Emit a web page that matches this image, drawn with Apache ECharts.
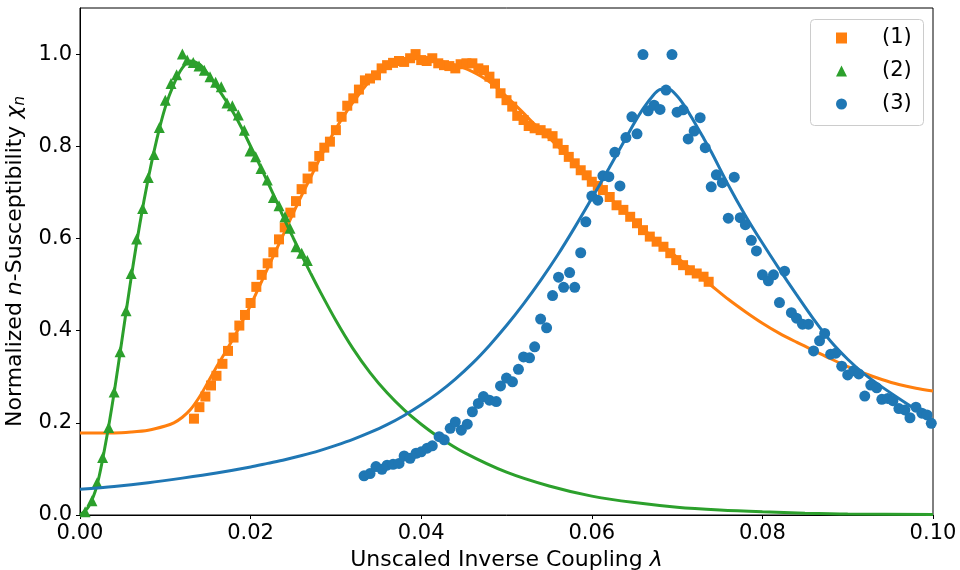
<!DOCTYPE html>
<html>
<head>
<meta charset="utf-8">
<script src="https://cdn.jsdelivr.net/npm/echarts@6/dist/echarts.min.js"></script>
<style>
html,body{margin:0;padding:0;background:#fff;}
#chart{width:960px;height:570px;}
</style>
</head>
<body>
<div id="chart"></div>
<script>
// ---- Data ----
var xTicks = [0, 0.02, 0.04, 0.06, 0.08, 0.10];
var yTicks = [0, 0.2, 0.4, 0.6, 0.8, 1.0];
var seriesNames = ['(1)', '(2)', '(3)'];

// (1) orange squares
var s1x = [0.01336,0.0140,0.0147,0.01536,0.0160,0.0167,0.01735,0.0180,0.01868,0.01934,0.0200,0.02067,0.0213,0.0220,0.02267,0.02333,0.0240,0.02466,0.02532,0.02598,0.02668,0.02735,0.02805,0.02864,0.0293,0.0300,0.03067,0.03133,0.03204,0.0327,0.0334,0.0340,0.0347,0.03536,0.0360,0.0367,0.0374,0.0380,0.0387,0.03934,0.0400,0.04064,0.0413,0.0420,0.04267,0.0433,0.0440,0.04462,0.0453,0.0460,0.0467,0.04736,0.0480,0.04865,0.0493,0.0500,0.05067,0.05126,0.0520,0.0526,0.0533,0.0540,0.0547,0.0554,0.0560,0.0567,0.0573,0.0580,0.0587,0.0594,0.0600,0.0607,0.0613,0.0621,0.0629,0.0637,0.0645,0.0653,0.0660,0.0668,0.0676,0.0684,0.0692,0.0699,0.0707,0.0715,0.0723,0.0731,0.0737];
var s1y = [0.209,0.234,0.257,0.281,0.302,0.328,0.356,0.385,0.411,0.434,0.460,0.495,0.521,0.546,0.570,0.598,0.624,0.656,0.681,0.707,0.730,0.756,0.779,0.797,0.810,0.835,0.864,0.888,0.904,0.923,0.943,0.947,0.954,0.969,0.976,0.981,0.985,0.983,0.991,1.000,0.987,0.985,0.991,0.980,0.976,0.974,0.969,0.978,0.980,0.980,0.969,0.965,0.951,0.936,0.915,0.900,0.886,0.866,0.857,0.844,0.839,0.835,0.828,0.822,0.806,0.792,0.777,0.763,0.748,0.737,0.723,0.714,0.705,0.690,0.672,0.662,0.647,0.633,0.618,0.604,0.593,0.582,0.568,0.553,0.542,0.531,0.524,0.517,0.506];

// (2) green triangles
var s2x = [0.0006,0.0014,0.0020,0.00265,0.00336,0.0040,0.0047,0.0054,0.0060,0.00664,0.00734,0.0080,0.00867,0.0093,0.0100,0.01067,0.01133,0.0120,0.01257,0.01328,0.01395,0.01457,0.01524,0.0159,0.01656,0.01723,0.01786,0.01856,0.01926,0.01993,0.0206,0.02122,0.02196,0.02267,0.02333,0.02403,0.02462,0.02532,0.02599,0.02665];
var s2y = [0.007,0.031,0.070,0.125,0.190,0.267,0.354,0.443,0.524,0.599,0.665,0.732,0.782,0.841,0.900,0.936,0.955,1.000,0.987,0.982,0.974,0.965,0.951,0.939,0.929,0.894,0.888,0.868,0.835,0.790,0.777,0.752,0.727,0.689,0.671,0.647,0.622,0.582,0.568,0.552];

// (3) blue circles
var s3x = [0.0333,0.0340,0.0347,0.0354,0.0360,0.0367,0.0374,0.0380,0.0387,0.0394,0.0400,0.0407,0.0413,0.0421,0.0427,0.0434,0.0440,0.0447,0.0454,0.0460,0.0467,0.0473,0.0480,0.0488,0.0493,0.0500,0.0507,0.0514,0.0520,0.0527,0.0533,0.0540,0.0547,0.0554,0.0561,0.0567,0.0574,0.0580,0.0587,0.0593,0.0600,0.0607,0.0613,0.0620,0.0627,0.0633,0.0640,0.0647,0.0653,0.0660,0.0666,0.0673,0.0680,0.0687,0.0694,0.0700,0.0707,0.0713,0.0720,0.0727,0.0733,0.0740,0.0746,0.0753,0.0760,0.0767,0.0774,0.0780,0.0787,0.0793,0.0800,0.0807,0.0813,0.0820,0.0826,0.0834,0.0840,0.0847,0.0854,0.0860,0.0867,0.0873,0.0880,0.0886,0.0893,0.0900,0.0907,0.0913,0.0920,0.0927,0.0934,0.0940,0.0947,0.0953,0.0960,0.0967,0.0973,0.0980,0.0987,0.0993,0.0998];
var s3y = [0.085,0.090,0.105,0.099,0.108,0.110,0.112,0.128,0.123,0.134,0.137,0.145,0.150,0.170,0.163,0.188,0.202,0.184,0.197,0.224,0.242,0.257,0.249,0.246,0.280,0.297,0.289,0.316,0.343,0.341,0.365,0.425,0.406,0.476,0.516,0.494,0.526,0.494,0.569,0.636,0.692,0.683,0.736,0.734,0.787,0.714,0.819,0.864,0.827,0.999,0.877,0.889,0.880,0.922,0.999,0.874,0.879,0.816,0.833,0.862,0.797,0.712,0.738,0.721,0.644,0.733,0.645,0.630,0.596,0.573,0.521,0.508,0.521,0.461,0.529,0.439,0.427,0.414,0.414,0.356,0.378,0.394,0.349,0.351,0.323,0.304,0.313,0.306,0.258,0.282,0.276,0.251,0.253,0.248,0.231,0.228,0.211,0.234,0.221,0.217,0.199];

// fit curves
var f1x = [0.000,0.004,0.006,0.008,0.010,0.011,0.012,0.013,0.014,0.015,0.016,0.017,0.018,0.019,0.020,0.021,0.022,0.023,0.024,0.025,0.026,0.027,0.028,0.029,0.030,0.031,0.032,0.033,0.034,0.035,0.036,0.037,0.038,0.039,0.040,0.041,0.042,0.043,0.044,0.045,0.046,0.047,0.048,0.049,0.050,0.051,0.052,0.053,0.054,0.055,0.056,0.057,0.058,0.059,0.060,0.062,0.064,0.066,0.068,0.070,0.072,0.074,0.076,0.078,0.080,0.082,0.084,0.086,0.088,0.090,0.092,0.094,0.096,0.098,0.100];
var f1y = [0.178,0.178,0.180,0.184,0.193,0.200,0.212,0.230,0.256,0.288,0.321,0.352,0.384,0.419,0.455,0.495,0.535,0.575,0.615,0.655,0.694,0.731,0.769,0.805,0.838,0.868,0.895,0.920,0.942,0.960,0.973,0.982,0.987,0.990,0.990,0.988,0.985,0.981,0.976,0.970,0.962,0.952,0.940,0.925,0.908,0.890,0.872,0.853,0.835,0.818,0.800,0.782,0.764,0.745,0.727,0.690,0.655,0.621,0.590,0.559,0.528,0.498,0.468,0.441,0.416,0.394,0.375,0.357,0.339,0.322,0.307,0.294,0.283,0.275,0.269];

var f2x = [0.000,0.001,0.002,0.003,0.004,0.005,0.006,0.007,0.008,0.009,0.010,0.011,0.012,0.013,0.014,0.015,0.016,0.017,0.018,0.019,0.020,0.021,0.022,0.023,0.024,0.025,0.026,0.027,0.028,0.030,0.032,0.034,0.036,0.038,0.040,0.042,0.045,0.050,0.055,0.060,0.065,0.070,0.075,0.080,0.085,0.090,0.100];
var f2y = [0.000,0.018,0.065,0.155,0.265,0.390,0.515,0.630,0.730,0.815,0.885,0.935,0.970,0.985,0.978,0.957,0.930,0.902,0.872,0.838,0.800,0.762,0.722,0.682,0.640,0.601,0.563,0.526,0.490,0.422,0.361,0.309,0.265,0.228,0.197,0.170,0.136,0.093,0.063,0.041,0.027,0.017,0.011,0.007,0.004,0.002,0.001];

var f3x = [0.000,0.004,0.008,0.012,0.016,0.020,0.022,0.024,0.026,0.028,0.030,0.032,0.034,0.036,0.038,0.040,0.042,0.044,0.046,0.048,0.050,0.052,0.054,0.056,0.058,0.060,0.062,0.064,0.065,0.066,0.067,0.068,0.069,0.070,0.071,0.072,0.073,0.074,0.076,0.078,0.080,0.082,0.084,0.086,0.088,0.090,0.092,0.094,0.096,0.098,0.100];
var f3y = [0.056,0.062,0.070,0.080,0.091,0.104,0.112,0.120,0.129,0.139,0.151,0.164,0.179,0.196,0.216,0.239,0.265,0.295,0.329,0.368,0.411,0.458,0.509,0.564,0.624,0.687,0.752,0.818,0.851,0.881,0.906,0.923,0.924,0.909,0.884,0.853,0.821,0.788,0.716,0.650,0.590,0.533,0.478,0.425,0.377,0.338,0.305,0.278,0.253,0.229,0.206];

var colors = ['#ff7f0e', '#2ca02c', '#1f77b4'];

function zip(xs, ys) { return xs.map(function (x, i) { return [x, ys[i]]; }); }

var FONT = 'DejaVu Sans';
var chart = echarts.init(document.getElementById('chart'), null, { renderer: 'canvas' });

var option = {
  animation: false,
  backgroundColor: '#fff',
  textStyle: { fontFamily: FONT },
  grid: { left: 80, right: 27, top: 8, bottom: 55, containLabel: false, outerBoundsMode: 'none',
    show: true, borderColor: '#000', borderWidth: 1, backgroundColor: 'transparent' },
  xAxis: {
    type: 'value', min: 0, max: 0.10, interval: 0.02,
    name: 'Unscaled Inverse Coupling {i|λ}',
    nameLocation: 'middle', nameGap: 31,
    nameTextStyle: { fontFamily: FONT, fontSize: 22, color: '#000',
      rich: { i: { fontFamily: FONT, fontSize: 22, fontStyle: 'italic', color: '#000' } } },
    axisLine: { show: true, lineStyle: { color: '#000', width: 1 } },
    axisTick: { show: true, inside: false, length: 4, lineStyle: { color: '#000' } },
    axisLabel: { fontFamily: FONT, fontSize: 21, color: '#000', margin: 8,
      formatter: function (v) { return v.toFixed(2); } },
    splitLine: { show: false }
  },
  yAxis: {
    type: 'value', min: 0, max: 1.1, interval: 0.2,
    name: 'Normalized {i|n}-Susceptibility {i|χ}{sub|n}',
    nameLocation: 'middle', nameGap: 48, nameRotate: 90,
    nameTextStyle: { fontFamily: FONT, fontSize: 22, color: '#000',
      rich: {
        i: { fontFamily: FONT, fontSize: 22, fontStyle: 'italic', color: '#000' },
        sub: { fontFamily: FONT, fontSize: 15, fontStyle: 'italic', color: '#000', padding: [9, 0, 0, 0] }
      } },
    axisLine: { show: true, lineStyle: { color: '#000', width: 1 } },
    axisTick: { show: true, inside: false, length: 4, lineStyle: { color: '#000' }, customValues: yTicks },
    axisLabel: { fontFamily: FONT, fontSize: 21, color: '#000', margin: 8, customValues: yTicks,
      formatter: function (v) { return v > 1.05 ? '' : v.toFixed(1); } },
    splitLine: { show: false }
  },
  legend: {
    data: [
      { name: seriesNames[0], icon: 'rect' },
      { name: seriesNames[1], icon: 'triangle' },
      { name: seriesNames[2], icon: 'circle' }
    ],
    orient: 'vertical',
    left: 836, top: 27,
    padding: 0,
    itemWidth: 11, itemHeight: 11, itemGap: 11,
    formatter: function (name) { return '{s|}' + name; },
    textStyle: { fontFamily: FONT, fontSize: 21, color: '#000', lineHeight: 22,
      rich: { s: { width: 30, fontSize: 21, lineHeight: 22 } } },
    selectedMode: false
  },
  graphic: [{
    type: 'rect', left: 810, top: 19, z: 0,
    shape: { width: 113, height: 106, r: 4 },
    style: { fill: 'rgba(255,255,255,0.8)', stroke: '#cccccc', lineWidth: 1 }
  }],
  series: [
    { name: '(1)', type: 'scatter', symbol: 'rect', symbolSize: 10, data: zip(s1x, s1y), itemStyle: { color: colors[0], opacity: 1 }, z: 3 },
    { type: 'line', data: zip(f1x, f1y), showSymbol: false, smooth: 0.3, lineStyle: { color: colors[0], width: 3 }, itemStyle: { color: colors[0] }, z: 3 },
    { name: '(2)', type: 'scatter', symbol: 'triangle', symbolSize: 11, data: zip(s2x, s2y), itemStyle: { color: colors[1], opacity: 1 }, z: 4 },
    { type: 'line', data: zip(f2x, f2y), showSymbol: false, smooth: 0.3, lineStyle: { color: colors[1], width: 3 }, itemStyle: { color: colors[1] }, z: 4 },
    { name: '(3)', type: 'scatter', symbol: 'circle', symbolSize: 11, data: zip(s3x, s3y), itemStyle: { color: colors[2], opacity: 1 }, z: 5 },
    { type: 'line', data: zip(f3x, f3y), showSymbol: false, smooth: 0.3, lineStyle: { color: colors[2], width: 3 }, itemStyle: { color: colors[2] }, z: 5 }
  ]
};
chart.setOption(option);
</script>
</body>
</html>
